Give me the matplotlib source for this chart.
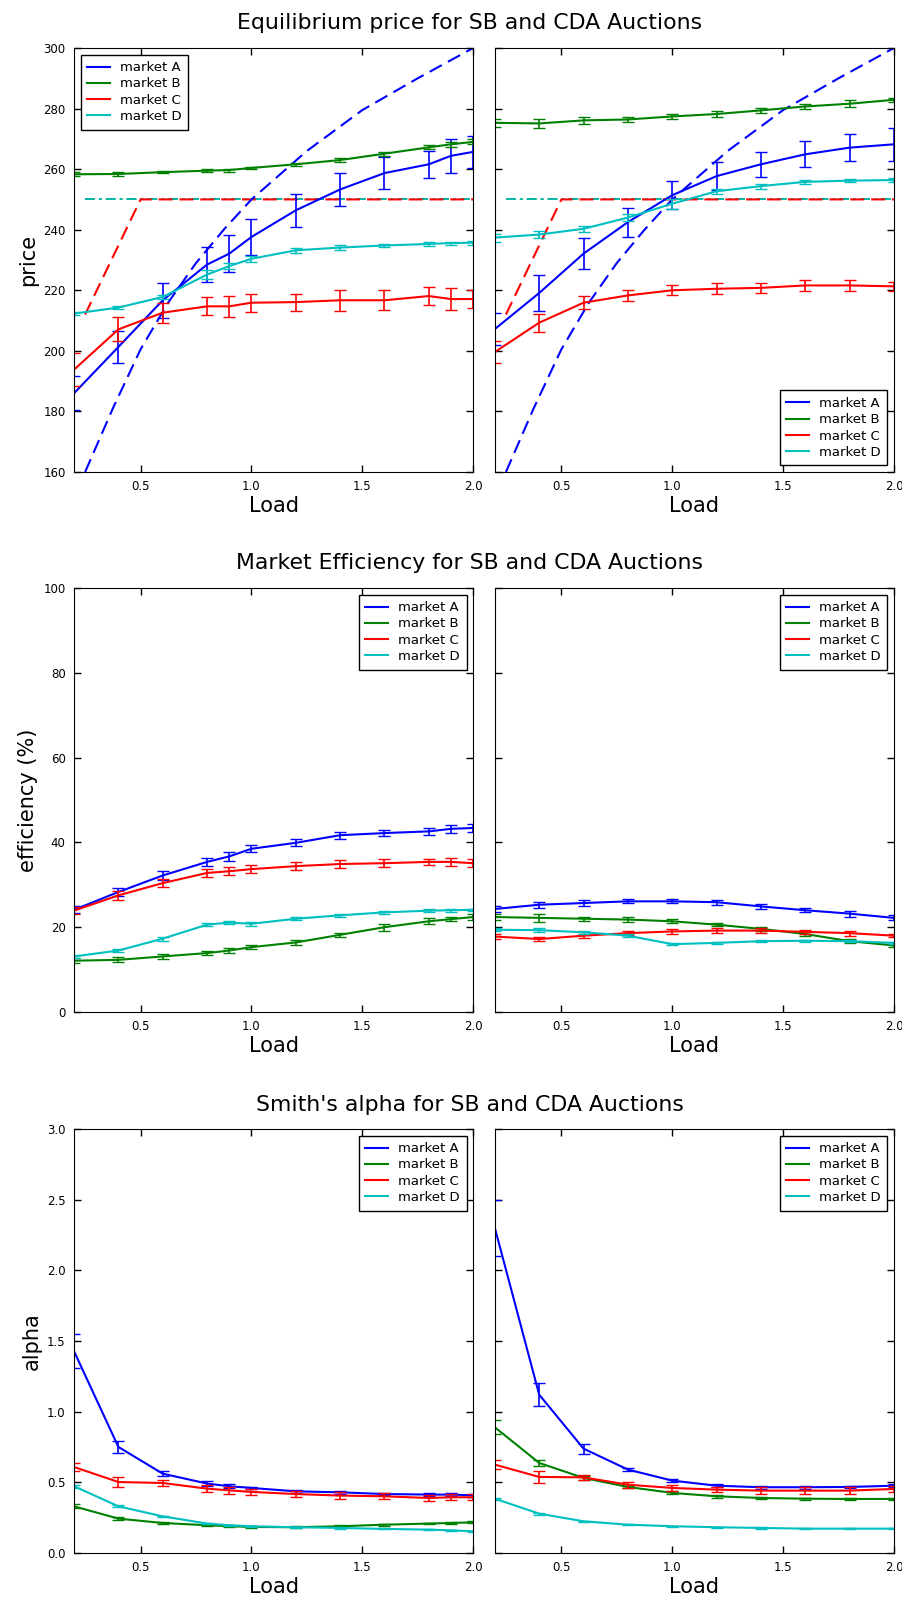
import matplotlib.pyplot as plt

plt.rcParams['lines.scale_dashes'] = False

# load levels used in the two auction types
load_sb = [0.2, 0.4, 0.6, 0.8, 0.9, 1.0, 1.2, 1.4, 1.6, 1.8, 1.9, 2.0]
load_cda = [0.2, 0.4, 0.6, 0.8, 1.0, 1.2, 1.4, 1.6, 1.8, 2.0]

markets = ['market A', 'market B', 'market C', 'market D']
colors = ['b', 'g', 'r', 'c']

# equilibrium price, SB auction
price_sb_a = [186.0, 201.3, 216.7, 228.5, 232.1, 237.6, 246.4, 253.3, 258.7, 261.6, 264.4, 265.7]
price_sb_b = [258.3, 258.4, 259.0, 259.5, 259.7, 260.4, 261.6, 263.0, 265.1, 267.2, 268.2, 269.0]
price_sb_c = [193.8, 207.1, 212.6, 214.7, 214.7, 215.9, 216.1, 216.7, 216.7, 218.1, 217.1, 217.1]
price_sb_d = [212.3, 214.3, 217.8, 225.2, 228.0, 230.4, 233.2, 234.1, 234.8, 235.3, 235.6, 235.7]
price_sb_a_err = [5.6, 5.3, 5.8, 5.9, 6.1, 5.8, 5.5, 5.5, 5.4, 4.5, 5.7, 5.2]
price_sb_b_err = [0.6, 0.5, 0.4, 0.4, 0.5, 0.4, 0.5, 0.6, 0.6, 0.7, 0.8, 0.8]
price_sb_c_err = [5.5, 4.0, 3.3, 3.0, 3.5, 3.0, 2.8, 3.5, 3.3, 3.0, 3.5, 3.0]
price_sb_d_err = [0.5, 0.5, 0.8, 1.5, 1.0, 1.0, 0.8, 0.7, 0.6, 0.6, 0.5, 0.6]

# equilibrium price, CDA auction
price_cda_a = [207.2, 219.1, 232.1, 242.5, 251.4, 257.7, 261.6, 264.9, 267.1, 268.2]
price_cda_b = [275.3, 275.1, 276.1, 276.4, 277.4, 278.2, 279.4, 280.7, 281.6, 282.9]
price_cda_c = [199.6, 209.3, 215.9, 218.3, 220.0, 220.5, 220.8, 221.6, 221.6, 221.3]
price_cda_d = [237.4, 238.4, 240.3, 244.0, 248.6, 252.7, 254.4, 255.8, 256.2, 256.4]
price_cda_a_err = [5.3, 5.8, 5.0, 4.8, 4.7, 4.5, 4.2, 4.3, 4.4, 5.4]
price_cda_b_err = [1.3, 1.5, 1.1, 0.9, 0.9, 0.9, 0.9, 0.9, 1.1, 0.6]
price_cda_c_err = [3.5, 3.0, 2.1, 1.7, 1.7, 1.8, 1.7, 1.7, 1.7, 1.5]
price_cda_d_err = [1.3, 1.2, 1.0, 1.2, 1.7, 0.8, 0.8, 0.6, 0.6, 0.7]

# theoretical equilibrium price
theory_load = [0.25, 0.375, 0.5, 0.625, 0.75, 0.875, 1.0, 1.25, 1.5, 1.75, 2.0]
theory_a = [160.0, 181.0, 200.5, 216.0, 229.0, 240.0, 250.0, 266.0, 279.5, 290.0, 300.0]
theory_b = [250.0, 250.0, 250.0, 250.0, 250.0, 250.0, 250.0, 250.0, 250.0, 250.0, 250.0]
theory_c = [212.0, 231.0, 250.0, 250.0, 250.0, 250.0, 250.0, 250.0, 250.0, 250.0, 250.0]
theory_d = [250.0, 250.0, 250.0, 250.0, 250.0, 250.0, 250.0, 250.0, 250.0, 250.0, 250.0]

# market efficiency (%)
eff_sb_a = [24.1, 28.3, 32.2, 35.4, 36.7, 38.5, 39.9, 41.7, 42.2, 42.6, 43.2, 43.4]
eff_sb_b = [12.1, 12.3, 13.1, 13.9, 14.5, 15.3, 16.4, 18.2, 20.0, 21.4, 21.9, 22.4]
eff_sb_c = [23.9, 27.5, 30.4, 32.8, 33.2, 33.7, 34.4, 34.9, 35.1, 35.4, 35.4, 35.1]
eff_sb_d = [13.1, 14.5, 17.3, 20.6, 21.1, 20.8, 22.0, 22.8, 23.5, 23.9, 24.0, 24.1]
eff_sb_a_err = [0.8, 1.0, 1.0, 1.0, 1.0, 0.8, 0.8, 0.8, 0.8, 0.8, 0.9, 0.9]
eff_sb_b_err = [0.6, 0.6, 0.6, 0.4, 0.5, 0.5, 0.5, 0.5, 0.8, 0.7, 0.5, 0.6]
eff_sb_c_err = [0.8, 1.0, 1.0, 1.0, 1.0, 0.9, 0.9, 0.9, 1.0, 0.8, 1.0, 0.9]
eff_sb_d_err = [0.4, 0.4, 0.5, 0.4, 0.4, 0.5, 0.3, 0.3, 0.3, 0.3, 0.3, 0.3]

eff_cda_a = [24.3, 25.3, 25.7, 26.1, 26.1, 25.9, 24.9, 24.0, 23.2, 22.2]
eff_cda_b = [22.4, 22.2, 22.0, 21.8, 21.4, 20.6, 19.6, 18.4, 16.7, 15.7]
eff_cda_c = [17.8, 17.2, 18.0, 18.6, 19.0, 19.2, 19.2, 18.9, 18.6, 18.0]
eff_cda_d = [19.4, 19.3, 18.8, 18.0, 16.0, 16.3, 16.7, 16.8, 16.7, 16.3]
eff_cda_a_err = [0.6, 0.7, 0.7, 0.5, 0.5, 0.6, 0.5, 0.5, 0.7, 0.6]
eff_cda_b_err = [0.8, 1.0, 0.5, 0.6, 0.5, 0.4, 0.4, 0.5, 0.4, 0.4]
eff_cda_c_err = [0.5, 0.5, 0.5, 0.4, 0.5, 0.6, 0.5, 0.5, 0.6, 0.4]
eff_cda_d_err = [0.4, 0.4, 0.3, 0.3, 0.3, 0.2, 0.2, 0.2, 0.2, 0.2]

# Smith's alpha
alpha_sb_a = [1.427, 0.75, 0.561, 0.491, 0.472, 0.46, 0.436, 0.429, 0.417, 0.413, 0.413, 0.408]
alpha_sb_b = [0.33, 0.243, 0.212, 0.196, 0.189, 0.184, 0.182, 0.189, 0.2, 0.208, 0.212, 0.217]
alpha_sb_c = [0.608, 0.502, 0.495, 0.455, 0.443, 0.432, 0.417, 0.406, 0.401, 0.389, 0.394, 0.394]
alpha_sb_d = [0.472, 0.33, 0.259, 0.208, 0.196, 0.189, 0.182, 0.177, 0.17, 0.165, 0.16, 0.153]
alpha_sb_a_err = [0.12, 0.04, 0.02, 0.015, 0.015, 0.01, 0.01, 0.01, 0.01, 0.01, 0.01, 0.01]
alpha_sb_b_err = [0.015, 0.01, 0.01, 0.008, 0.008, 0.006, 0.006, 0.006, 0.006, 0.006, 0.006, 0.006]
alpha_sb_c_err = [0.03, 0.035, 0.02, 0.025, 0.025, 0.02, 0.02, 0.025, 0.02, 0.02, 0.02, 0.02]
alpha_sb_d_err = [0.01, 0.008, 0.006, 0.005, 0.005, 0.004, 0.004, 0.004, 0.004, 0.004, 0.004, 0.004]

alpha_cda_a = [2.3, 1.12, 0.738, 0.59, 0.512, 0.476, 0.465, 0.465, 0.467, 0.476]
alpha_cda_b = [0.889, 0.637, 0.531, 0.467, 0.425, 0.401, 0.389, 0.384, 0.382, 0.382]
alpha_cda_c = [0.625, 0.538, 0.535, 0.483, 0.46, 0.448, 0.441, 0.441, 0.441, 0.453]
alpha_cda_d = [0.384, 0.278, 0.224, 0.2, 0.189, 0.182, 0.177, 0.172, 0.172, 0.172]
alpha_cda_a_err = [0.2, 0.08, 0.035, 0.012, 0.012, 0.01, 0.01, 0.01, 0.01, 0.012]
alpha_cda_b_err = [0.05, 0.02, 0.012, 0.01, 0.01, 0.01, 0.008, 0.008, 0.008, 0.008]
alpha_cda_c_err = [0.03, 0.04, 0.02, 0.02, 0.02, 0.02, 0.025, 0.025, 0.025, 0.02]
alpha_cda_d_err = [0.008, 0.006, 0.005, 0.004, 0.004, 0.004, 0.004, 0.004, 0.004, 0.004]


def draw_panel(ax, load, values, errors, ylim, yticks, legend_loc, show_ylabels):
    for v, e, c, name in zip(values, errors, colors, markets):
        ax.plot(load, v, color=c, lw=1.5, label=name)
        ax.errorbar(load, v, yerr=e, fmt='none', ecolor=c, elinewidth=1.2,
                    capsize=4, capthick=1.0)
    ax.set_xlim(0.2, 2.0)
    ax.set_ylim(*ylim)
    ax.set_xticks([0.5, 1.0, 1.5, 2.0])
    ax.set_yticks(yticks)
    ax.tick_params(direction='in', top=True, right=True, length=5, width=1,
                   labelsize=8.5, pad=6, labelleft=show_ylabels)
    ax.set_xlabel('Load', fontsize=15, labelpad=2)
    leg = ax.legend(loc=legend_loc, fontsize=9.5, fancybox=False, framealpha=1,
                    handlelength=1.7, labelspacing=0.25, borderpad=0.5)
    leg.get_frame().set_edgecolor('black')
    leg.get_frame().set_linewidth(1.0)


def draw_theory(ax):
    ax.plot(theory_load, theory_b, color='g', lw=1.2, dashes=(7, 3, 2, 3))
    ax.plot(theory_load, theory_d, color='c', lw=1.2, dashes=(7, 3, 2, 3))
    ax.plot(theory_load, theory_c, color='r', lw=1.5, dashes=(10, 5))
    ax.plot(theory_load, theory_a, color='b', lw=1.5, dashes=(10, 5))


fig = plt.figure(figsize=(9.03, 16), dpi=100)

lx, rx, w, h = 0.082, 0.548, 0.442, 0.265
rows = [0.705, 0.3675, 0.0294]

# row 1: equilibrium price
ax1 = fig.add_axes([lx, rows[0], w, h])
draw_theory(ax1)
draw_panel(ax1, load_sb, [price_sb_a, price_sb_b, price_sb_c, price_sb_d],
           [price_sb_a_err, price_sb_b_err, price_sb_c_err, price_sb_d_err],
           (160, 300), range(160, 301, 20), 'upper left', True)
ax1.set_ylabel('price', fontsize=15)

ax2 = fig.add_axes([rx, rows[0], w, h])
draw_theory(ax2)
draw_panel(ax2, load_cda, [price_cda_a, price_cda_b, price_cda_c, price_cda_d],
           [price_cda_a_err, price_cda_b_err, price_cda_c_err, price_cda_d_err],
           (160, 300), range(160, 301, 20), 'lower right', False)

# row 2: efficiency
ax3 = fig.add_axes([lx, rows[1], w, h])
draw_panel(ax3, load_sb, [eff_sb_a, eff_sb_b, eff_sb_c, eff_sb_d],
           [eff_sb_a_err, eff_sb_b_err, eff_sb_c_err, eff_sb_d_err],
           (0, 100), range(0, 101, 20), 'upper right', True)
ax3.set_ylabel('efficiency (%)', fontsize=15)

ax4 = fig.add_axes([rx, rows[1], w, h])
draw_panel(ax4, load_cda, [eff_cda_a, eff_cda_b, eff_cda_c, eff_cda_d],
           [eff_cda_a_err, eff_cda_b_err, eff_cda_c_err, eff_cda_d_err],
           (0, 100), range(0, 101, 20), 'upper right', False)

# row 3: Smith's alpha
ax5 = fig.add_axes([lx, rows[2], w, h])
draw_panel(ax5, load_sb, [alpha_sb_a, alpha_sb_b, alpha_sb_c, alpha_sb_d],
           [alpha_sb_a_err, alpha_sb_b_err, alpha_sb_c_err, alpha_sb_d_err],
           (0, 3), [0.0, 0.5, 1.0, 1.5, 2.0, 2.5, 3.0], 'upper right', True)
ax5.set_ylabel('alpha', fontsize=15)

ax6 = fig.add_axes([rx, rows[2], w, h])
draw_panel(ax6, load_cda, [alpha_cda_a, alpha_cda_b, alpha_cda_c, alpha_cda_d],
           [alpha_cda_a_err, alpha_cda_b_err, alpha_cda_c_err, alpha_cda_d_err],
           (0, 3), [0.0, 0.5, 1.0, 1.5, 2.0, 2.5, 3.0], 'upper right', False)

fig.text(0.52, 0.9858, 'Equilibrium price for SB and CDA Auctions', ha='center', va='center', fontsize=15.8)
fig.text(0.52, 0.648, 'Market Efficiency for SB and CDA Auctions', ha='center', va='center', fontsize=15.8)
fig.text(0.52, 0.3094, "Smith's alpha for SB and CDA Auctions", ha='center', va='center', fontsize=15.8)

fig.savefig('out.png', dpi=100)
